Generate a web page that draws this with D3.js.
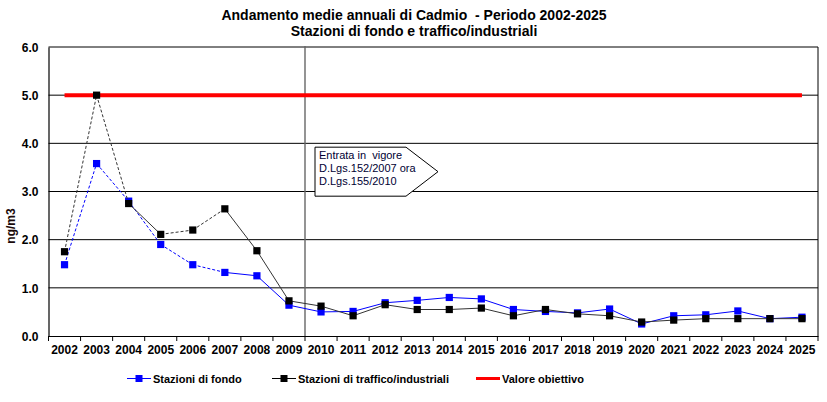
<!DOCTYPE html>
<html>
<head>
<meta charset="utf-8">
<script src="https://cdn.jsdelivr.net/npm/d3@7"></script>
<style>
  body { margin: 0; background: #fff; }
  svg text { font-family: "Liberation Sans", Arial, sans-serif; }
</style>
</head>
<body>
<div id="chart-area"></div>
<script>
const years = ["2002","2003","2004","2005","2006","2007","2008","2009","2010","2011","2012","2013",
    "2014","2015","2016","2017","2018","2019","2020","2021","2022","2023","2024","2025"];
const fondo = [1.48, 3.58, 2.80, 1.90, 1.48, 1.32, 1.25, 0.64, 0.50, 0.51, 0.69, 0.74,
    0.80, 0.77, 0.55, 0.51, 0.48, 0.56, 0.25, 0.42, 0.44, 0.52, 0.36, 0.39];
const traffico = [1.75, 5.00, 2.75, 2.11, 2.20, 2.64, 1.77, 0.73, 0.62, 0.42, 0.65, 0.55,
    0.55, 0.58, 0.42, 0.55, 0.46, 0.42, 0.29, 0.33, 0.36, 0.36, 0.36, 0.36];
const valoreObiettivo = 5.0;
const yTicks = [0, 1, 2, 3, 4, 5, 6];
const lastDashedYear = "2007";
const noteYear = "2010";
const noteLines = ["Entrata in  vigore", "D.Lgs.152/2007 ora", "D.Lgs.155/2010"];

const svgWidth = 827, svgHeight = 402;
const margin = { top: 47, right: 9, bottom: 66, left: 48.5 };
const width = svgWidth - margin.left - margin.right;
const height = svgHeight - margin.top - margin.bottom;

const svg = d3.select("#chart-area").append("svg")
    .attr("width", svgWidth)
    .attr("height", svgHeight);

// titolo
svg.append("text")
    .attr("x", 414).attr("y", 20)
    .attr("text-anchor", "middle")
    .style("font-size", "14px").style("font-weight", "bold")
    .style("white-space", "pre")
    .text("Andamento medie annuali di Cadmio  - Periodo 2002-2025");
svg.append("text")
    .attr("x", 414).attr("y", 36)
    .attr("text-anchor", "middle")
    .style("font-size", "14px").style("font-weight", "bold")
    .text("Stazioni di fondo e traffico/industriali");

const g = svg.append("g").attr("transform", `translate(${margin.left},${margin.top})`);

const xBand = d3.scaleBand().domain(years).range([0, width]);
const cx = d => xBand(d) + xBand.bandwidth() / 2;
const yScale = d3.scaleLinear().domain([0, 6]).range([height, 0]);

// griglia
g.append("g")
    .selectAll("line")
    .data(yTicks.filter(d => d > 0))
    .join("line")
    .attr("x1", 0).attr("x2", width)
    .attr("y1", d => yScale(d)).attr("y2", d => yScale(d))
    .attr("stroke", "#000").attr("stroke-width", 1);

// bordo destro
g.append("line")
    .attr("x1", width).attr("x2", width)
    .attr("y1", 0).attr("y2", height)
    .attr("stroke", "#000");

// asse y
const yAxis = g.append("g")
    .call(d3.axisLeft(yScale).tickValues(yTicks).tickSize(0).tickPadding(10).tickFormat(d3.format(".1f")));
yAxis.select(".domain").attr("stroke", "#000").attr("stroke-width", 1.2);
yAxis.selectAll("text")
    .attr("dy", "0.35em")
    .style("font-size", "12px").style("font-weight", "bold")
    .style("font-family", "Liberation Sans, Arial, sans-serif");

// asse x
const xAxis = g.append("g")
    .attr("transform", `translate(0,${height})`)
    .call(d3.axisBottom(xBand).tickSize(0).tickPadding(9));
xAxis.select(".domain").attr("stroke", "#000").attr("stroke-width", 1.2);
xAxis.selectAll("text")
    .style("font-size", "12px").style("font-weight", "bold")
    .style("font-family", "Liberation Sans, Arial, sans-serif");
xAxis.append("g")
    .selectAll("line")
    .data(years.concat(["end"]))
    .join("line")
    .attr("x1", d => d === "end" ? width : xBand(d))
    .attr("x2", d => d === "end" ? width : xBand(d))
    .attr("y1", 0).attr("y2", 5)
    .attr("stroke", "#000");

svg.append("text")
    .attr("transform", `translate(14.5,226) rotate(-90)`)
    .attr("text-anchor", "middle")
    .style("font-size", "12px").style("font-weight", "bold")
    .attr("fill", "#1a0a0a")
    .text("ng/m3");

// linea verticale entrata in vigore
const vx = xBand(noteYear);
g.append("line")
    .attr("x1", vx).attr("x2", vx)
    .attr("y1", -1).attr("y2", height)
    .attr("stroke", "#666").attr("stroke-width", 1.4);

// nota
const bx = vx + 10, by = yScale(3.92), bw = 91, bh = 49, tip = 32;
g.append("path")
    .attr("d", `M${bx},${by} L${bx + bw},${by} L${bx + bw + tip},${by + bh / 2} L${bx + bw},${by + bh} L${bx},${by + bh} Z`)
    .attr("fill", "#fff").attr("stroke", "#000").attr("stroke-width", 1);
g.append("g").selectAll("text")
    .data(noteLines)
    .join("text")
    .attr("x", bx + 4)
    .attr("y", (d, i) => by + 12 + i * 13)
    .style("font-size", "11px")
    .style("white-space", "pre")
    .attr("fill", "#000033")
    .text(d => d);

// valore obiettivo
g.append("line")
    .attr("x1", cx(years[0])).attr("x2", cx(years[years.length - 1]))
    .attr("y1", yScale(valoreObiettivo)).attr("y2", yScale(valoreObiettivo))
    .attr("stroke", "#ff0000").attr("stroke-width", 4);

// serie
const dashLimit = years.indexOf(lastDashedYear);
function drawSeries(values, color, solidSegments) {
    const pts = years.map((y, i) => ({ x: cx(y), y: yScale(values[i]) }));
    const seg = g.append("g");
    for (let i = 0; i < pts.length - 1; i++) {
        const dashed = i < dashLimit && !solidSegments.includes(i);
        seg.append("line")
            .attr("x1", pts[i].x).attr("y1", pts[i].y)
            .attr("x2", pts[i + 1].x).attr("y2", pts[i + 1].y)
            .attr("stroke", color).attr("stroke-width", 1)
            .attr("stroke-dasharray", dashed ? "3,2" : null);
    }
    g.append("g").selectAll("rect")
        .data(pts)
        .join("rect")
        .attr("x", d => d.x - 3.6).attr("y", d => d.y - 3.6)
        .attr("width", 7.2).attr("height", 7.2)
        .attr("fill", color === "#333" ? "#000" : color);
}
drawSeries(fondo, "#0000ff", []);
drawSeries(traffico, "#333", [2]);

// legenda
const legend = [
    { label: "Stazioni di fondo", color: "#0000ff", x: 127, marker: true, w: 1 },
    { label: "Stazioni di traffico/industriali", color: "#000", x: 272, marker: true, w: 1 },
    { label: "Valore obiettivo", color: "#ff0000", x: 476, marker: false, w: 3 }
];
const lg = svg.append("g").attr("transform", "translate(0,378.5)");
legend.forEach(d => {
    lg.append("line")
        .attr("x1", d.x).attr("x2", d.x + 24)
        .attr("y1", 0).attr("y2", 0)
        .attr("stroke", d.color).attr("stroke-width", d.w);
    if (d.marker) {
        lg.append("rect")
            .attr("x", d.x + 8.5).attr("y", -3.5)
            .attr("width", 7).attr("height", 7)
            .attr("fill", d.color);
    }
    lg.append("text")
        .attr("x", d.x + 26).attr("y", 4.5)
        .style("font-size", "11px").style("font-weight", "bold")
        .text(d.label);
});
</script>
</body>
</html>
